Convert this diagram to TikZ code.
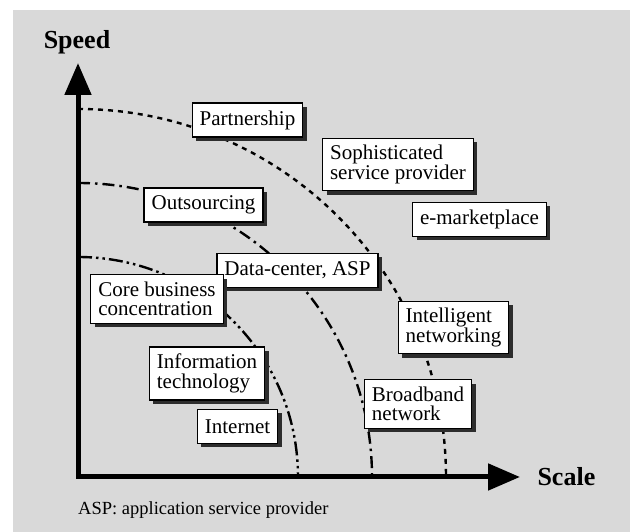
\documentclass[tikz,border=0pt]{standalone}
\usepackage{fontspec}
\setmainfont{Liberation Serif}
\usepackage{xcolor}
\usepackage{tikz}
\usetikzlibrary{arrows.meta,shadows}
\definecolor{bggray}{RGB}{217,217,217}
\definecolor{shadowgray}{RGB}{45,45,45}

\begin{document}
\begin{tikzpicture}[
  x=1pt, y=1pt,
  box/.style={rectangle, draw, line width=1.2pt, fill=white, align=left,
    inner xsep=7.5pt, inner ysep=7pt, minimum height=34pt,
    font=\fontsize{21}{19.5}\selectfont,
    drop shadow={shadow xshift=4pt, shadow yshift=-4pt, fill=shadowgray, opacity=1}},
  axis/.style={line width=5pt, line join=miter,
    {Triangle[length=32pt, width=26pt]}-{Triangle[length=32pt, width=26pt]}},
  axislabel/.style={font=\fontsize{26}{30}\selectfont\bfseries},
  outerline/.style={line width=2.4pt, dash pattern=on 5pt off 5pt},
  midline/.style={line width=2.4pt, dash pattern=on 12pt off 5pt on 2.5pt off 5pt},
  innerline/.style={line width=2.4pt, dash pattern=on 14pt off 4pt on 2.5pt off 4pt on 2.5pt off 4pt}
]
  \useasboundingbox (0,0) rectangle (630,532);
  \fill[bggray] (13,0) rectangle (630,522);

  \coordinate (o) at (78,55);
  \coordinate (ytip) at (78,469);
  \coordinate (xtip) at (520,55);
  \coordinate (outer) at (78,423);
  \coordinate (mid) at (78,349);
  \coordinate (inner) at (78,275);

  \draw[outerline] (outer) arc[start angle=90, end angle=0, radius=368];
  \draw[midline] (mid) arc[start angle=90, end angle=0, radius=294];
  \draw[innerline] (inner) arc[start angle=90, end angle=0, radius=220];

  \draw[axis] (ytip) -- (o) -- (xtip);
  \node[axislabel] (speed) at (77,490) {Speed};
  \node[axislabel, anchor=west] (scale) at (534,55) {Scale};

  \node[box] (partner) at (247.5,412) {Partnership};
  \node[box] (outsrc) at (203.5,327) {Outsourcing};
  \node[box] (datactr) at (297.5,261.5) {Data-center, ASP};
  \node[box] (sophis) at (398,367.5) {Sophisticated\\service provider};
  \node[box] (emkt) at (479.5,312.5) {e-marketplace};
  \node[box] (core) at (157,233) {Core business\\concentration};
  \node[box] (infotech) at (207,158.5) {Information\\technology};
  \node[box] (internet) at (237.5,105.5) {Internet};
  \node[box] (intnet) at (453.5,204.5) {Intelligent\\networking};
  \node[box] (broadband) at (418,128) {Broadband\\network};

  \node[anchor=base west, inner sep=0pt, font=\fontsize{18.5}{22}\selectfont] (note) at (78,17) {ASP: application service provider};
\end{tikzpicture}
\end{document}
